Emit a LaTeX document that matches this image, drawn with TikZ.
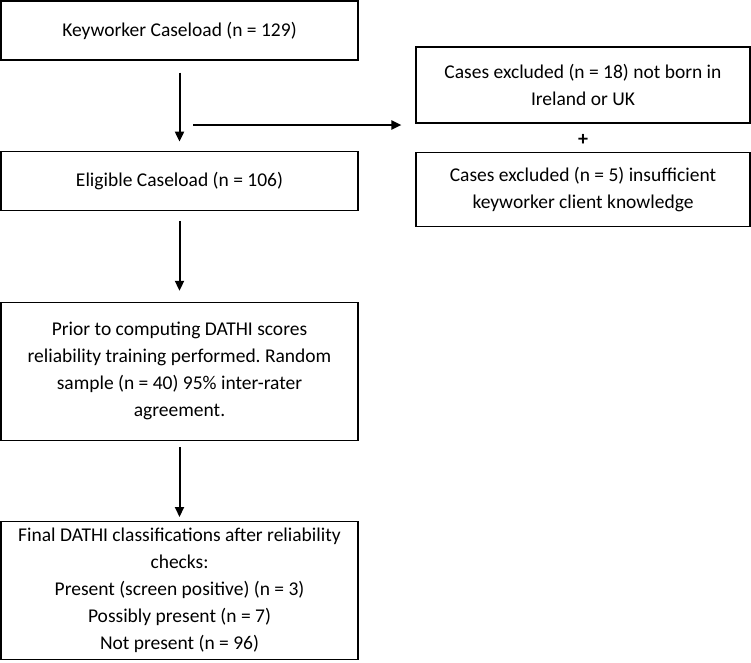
\documentclass[tikz,border=0pt]{standalone}
\usepackage{fontspec}
\setmainfont{Carlito}
\usepackage{tikz}
\usetikzlibrary{
  arrows.meta,
  calc,
  positioning,
}
\frenchspacing
\tikzstyle{box} = [
  rectangle,
  draw,
  line width=1.2pt,
  align=center,
  inner sep=0pt,
  font=\fontsize{19.5}{27}\selectfont,
]
\tikzstyle{arrow} = [
  -{Triangle[length=10pt,width=9pt]},
  line width=2pt,
]

\begin{document}
\begin{tikzpicture}[node distance=90pt and 59pt]
			\useasboundingbox (0,0) rectangle (751pt,-662pt);

			% main column
			\node[box,minimum width=357pt,minimum height=59pt] (b1) at (179.5pt,-30.5pt) {Keyworker Caseload (n = 129)};
			\node[box,minimum width=357pt,minimum height=59pt] (b2) [below=90pt of b1] {Eligible Caseload (n = 106)};
			\node[box,minimum width=357pt,minimum height=138pt] (b3) [below=91pt of b2] {Prior to computing DATHI scores\\reliability training performed. Random\\sample (n = 40) 95\% inter-rater\\agreement.};
			\node[box,minimum width=357pt,minimum height=138pt] (b4) [below=80pt of b3] {Final DATHI classifications after reliability\\checks:\\Present (screen positive) (n = 3)\\Possibly present (n = 7)\\Not present (n = 96)};

			% exclusions
			\node[box,minimum width=334pt,minimum height=76pt] (ex1) at (583pt,-85pt) {Cases excluded (n = 18) not born in\\Ireland or UK};
			\node[box,minimum width=334pt,minimum height=74pt] (ex2) [below=28pt of ex1] {Cases excluded (n = 5) insufficient\\keyworker client knowledge};
			\node[inner sep=0pt,yshift=-2pt,font=\fontsize{20}{27}\selectfont\bfseries] (plus) at ($(ex1.south)!0.5!(ex2.north)$) {+};

			\draw[arrow,shorten <=12pt,shorten >=9pt] (b1) -- (b2);
			\draw[arrow,shorten <=10pt,shorten >=11pt] (b2) -- (b3);
			\draw[arrow,shorten <=6pt,shorten >=4pt] (b3) -- (b4);

			\coordinate (split) at (193pt,-125pt);
			\draw[arrow,shorten >=14pt] (split) -- (split -| ex1.west);
      \end{tikzpicture}
\end{document}
